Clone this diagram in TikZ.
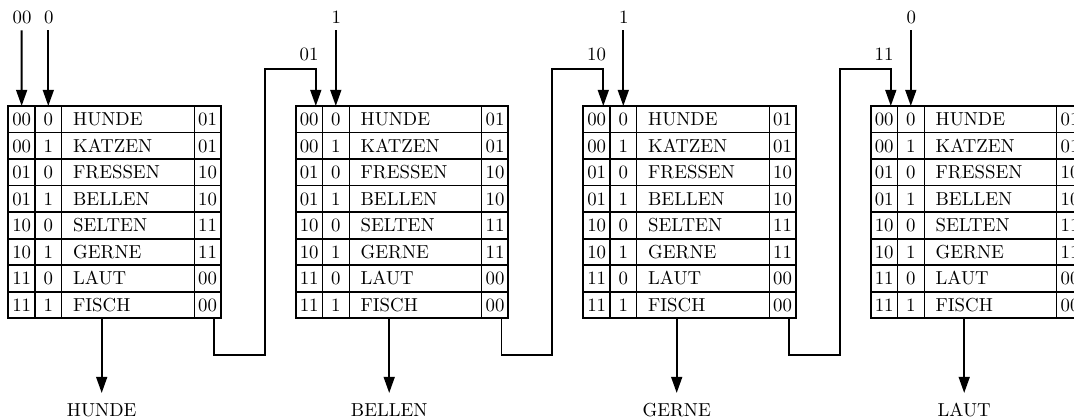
\documentclass[tikz,border=0pt]{standalone}
\usetikzlibrary{arrows.meta}
\begin{document}
\begin{tikzpicture}[x=0.532pt,y=-0.532pt,
  wire/.style={line width=1.05pt},
  arr/.style={wire,-{Triangle[length=8.6pt,width=5.8pt]}},
  txt/.style={inner sep=0pt,anchor=base},
  wtxt/.style={inner sep=0pt,anchor=base west},
  outer/.style={line width=1.1pt},
  hsep/.style={line width=0.9pt},
  vsep/.style={line width=0.7pt}]
\useasboundingbox (0,0) rectangle (1074,419);
\clip (0,0) rectangle (1074,419);
% four copies of the transition table, each with its input bit and output word
\foreach \k/\bit/\res in {0/0/HUNDE,1/1/BELLEN,2/1/GERNE,3/0/LAUT}{
  \begin{scope}[shift={({8.3+287.5*\k},106)}]
    \draw[hsep] \foreach \i in {1,...,7}{(0,\i*26.54) -- (212.4,\i*26.54)};
    \draw[vsep] (26.7,0) -- (26.7,212.3) (53.4,0) -- (53.4,212.3) (186,0) -- (186,212.3);
    \draw[outer] (0,0) rectangle (212.4,212.3);
    \foreach \ca/\cb/\cw/\cn [count=\i from 0] in
      {00/0/HUNDE/01, 00/1/KATZEN/01, 01/0/FRESSEN/10, 01/1/BELLEN/10,
       10/0/SELTEN/11, 10/1/GERNE/11, 11/0/LAUT/00, 11/1/FISCH/00}{
      \node[txt]  (a\k-\i) at (13.35,\i*26.54+19.7) {\ca};
      \node[txt]  (b\k-\i) at (40,\i*26.54+19.7) {\cb};
      \node[wtxt] (w\k-\i) at (64.5,\i*26.54+19.7) {\cw};
      \node[txt]  (n\k-\i) at (199.2,\i*26.54+19.7) {\cn};
    }
    \coordinate (ina\k) at (13.35,0);
    \coordinate (inb\k) at (40,0);
    \coordinate (dst\k) at (20,0);
    \coordinate (lbl\k) at (13.2,-45);
    \coordinate (src\k) at (205.7,212.3);
    \coordinate (lo\k) at (256.5,249);
    \coordinate (hi\k) at (256.5,-37);
    \coordinate (tb\k) at (40,-75.5);
    \coordinate (out\k) at (93.4,212.3);
    \coordinate (oe\k) at (93.4,287);
    \node[txt] (bit\k) at (40.5,-82.5) {\bit};
    \draw[arr] (tb\k) -- (inb\k);
    \node[txt] (res\k) at (93.4,310.5) {\res};
    \draw[arr] (out\k) -- (oe\k);
  \end{scope}
}
% initial state
\coordinate (ta) at (21.65,30.5);
\node[txt] (start) at (22,23.5) {00};
\draw[arr] (ta) -- (ina0);
% state handed on from one table to the next
\foreach \k/\m/\lab in {0/1/01,1/2/10,2/3/11}{
  \draw[arr] (src\k) |- (lo\k) -- (hi\k) -| (dst\m);
  \node[txt] (lab\m) at (lbl\m) {\lab};
}
\end{tikzpicture}
\end{document}
